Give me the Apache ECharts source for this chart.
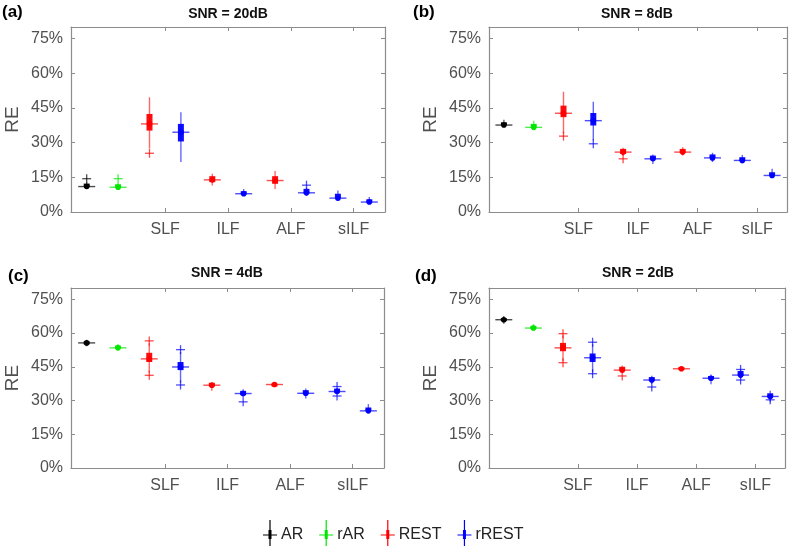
<!DOCTYPE html>
<html>
<head>
<meta charset="utf-8">
<script src="https://cdn.jsdelivr.net/npm/echarts@6/dist/echarts.min.js"></script>
<style>html,body{margin:0;padding:0;background:#fff}#c{width:793px;height:546px}</style>
</head>
<body>
<div id="c"></div>
<script>
// ---------- data ----------
const panelTitles = ['SNR = 20dB', 'SNR = 8dB', 'SNR = 4dB', 'SNR = 2dB'];
const panelLabels = ['(a)', '(b)', '(c)', '(d)'];
const groupNames = ['AR', 'rAR', 'REST', 'rREST'];
const groupColors = ['#000000', '#00e600', '#ff0000', '#0000ff'];
// which group each of the 10 box positions belongs to
const boxGroups = ['AR', 'rAR', 'REST', 'rREST', 'REST', 'rREST', 'REST', 'rREST', 'rREST', 'rREST'];
const xTickPos = [3.5, 5.5, 7.5, 9.5];
const xTickLabels = ['SLF', 'ILF', 'ALF', 'sILF'];
const yTicks = [0, 15, 30, 45, 60, 75];

// each box: [low whisker, q1, median, q3, high whisker] (RE in %)
const box20 = [
  [10.8, 10.9, 11.0, 12.3, 12.8],
  [10.5, 10.6, 10.7, 12.0, 12.5],
  [27.5, 35.2, 38.1, 42.4, 49.6],
  [21.6, 30.5, 34.5, 38.1, 43.1],
  [11.5, 12.9, 13.9, 15.5, 16.5],
  [6.9, 7.6, 7.9, 9.0, 10.0],
  [10.0, 12.2, 13.6, 15.5, 17.7],
  [6.9, 7.9, 8.3, 10.0, 10.6],
  [5.5, 6.0, 6.0, 7.9, 9.3],
  [3.6, 4.0, 4.3, 5.5, 6.5]
];
const out20 = [[1, 14.4], [2, 14.4], [3, 25.4], [8, 11.6]];

const box8 = [
  [37.4, 37.6, 37.6, 38.8, 39.9],
  [36.4, 36.6, 36.6, 38.1, 39.5],
  [34.0, 41.0, 42.7, 46.0, 52.0],
  [31.0, 37.4, 39.5, 42.8, 47.7],
  [24.3, 25.1, 25.9, 27.3, 27.8],
  [20.8, 22.7, 23.0, 24.4, 24.9],
  [24.4, 25.6, 25.9, 27.3, 28.0],
  [21.6, 23.4, 23.4, 24.9, 25.6],
  [21.1, 22.0, 22.3, 23.7, 24.7],
  [15.1, 15.8, 15.8, 17.2, 18.7]
];
const out8 = [[3, 32.8], [4, 29.5], [5, 23.0]];

const box4 = [
  [54.1, 55.3, 55.6, 56.3, 57.0],
  [52.4, 53.2, 53.4, 54.4, 55.1],
  [42.5, 47.1, 48.5, 51.2, 55.5],
  [38.0, 43.5, 44.9, 47.1, 51.5],
  [34.3, 36.2, 36.8, 37.9, 38.2],
  [31.5, 32.4, 33.1, 34.3, 35.0],
  [36.2, 36.5, 37.1, 37.6, 37.9],
  [30.9, 32.8, 33.2, 34.6, 35.3],
  [32.8, 33.5, 34.0, 35.3, 35.6],
  [24.7, 25.4, 25.4, 26.9, 28.4]
];
const out4 = [[3, 56.5], [3, 41.2], [4, 52.6], [4, 36.9], [6, 29.4], [9, 36.2], [9, 32.0]];

const box2 = [
  [64.1, 65.6, 65.9, 66.6, 67.6],
  [61.5, 62.1, 62.2, 63.2, 64.0],
  [47.5, 51.9, 53.4, 55.6, 59.0],
  [42.5, 47.1, 49.0, 50.9, 55.0],
  [42.4, 43.1, 43.5, 45.0, 45.6],
  [37.5, 38.7, 39.1, 40.4, 41.0],
  [43.8, 43.8, 44.1, 44.9, 45.0],
  [37.2, 39.4, 39.9, 40.9, 41.6],
  [39.8, 40.9, 41.3, 43.1, 43.5],
  [29.4, 31.3, 31.8, 33.2, 34.3]
];
const out2 = [[3, 59.7], [3, 46.8], [4, 55.9], [4, 41.9], [5, 40.9], [6, 36.0], [9, 43.8], [9, 39.1], [10, 30.3]];

const panelBoxes = [box20, box8, box4, box2];
const panelOutliers = [out20, out8, out4, out2];

// ---------- layout ----------
const FONT = '"Liberation Sans", Arial, sans-serif';
const grids = [
  {left: 71, top: 27, width: 314, height: 185},
  {left: 489, top: 27, width: 298, height: 185},
  {left: 71, top: 288, width: 313, height: 180},
  {left: 489, top: 288, width: 296, height: 180}
];
const titlePos = [[228, 14], [637, 14], [227, 273], [638, 273]];
const labelPos = [[2, 12], [413, 12], [8, 276], [415, 276]];

const AXIS_GRAY = '#8c8c8c';
const LABEL_GRAY = '#505050';

function renderBox(params, api) {
  const x = api.value(0);
  const pl = api.coord([x, api.value(1)]);
  const p1 = api.coord([x, api.value(2)]);
  const pm = api.coord([x, api.value(3)]);
  const p3 = api.coord([x, api.value(4)]);
  const ph = api.coord([x, api.value(5)]);
  const color = api.visual('color');
  const px = pl[0];
  const h = Math.max(p1[1] - p3[1], 3);
  return {
    type: 'group',
    children: [
      {type: 'line', shape: {x1: px, y1: pl[1], x2: px, y2: ph[1]}, style: {stroke: color, lineWidth: 1.4, opacity: 0.6}},
      {type: 'rect', shape: {x: px - 3, y: p3[1], width: 6, height: h}, style: {fill: color, opacity: 0.95}},
      {type: 'line', shape: {x1: px - 8.5, y1: pm[1], x2: px + 8.5, y2: pm[1]}, style: {stroke: color, lineWidth: 1.4, opacity: 0.7}},
      {type: 'circle', shape: {cx: px, cy: pm[1], r: 2.8}, style: {fill: color}}
    ]
  };
}
function renderOutlier(params, api) {
  const p = api.coord([api.value(0), api.value(1)]);
  const color = api.visual('color');
  return {
    type: 'group',
    children: [
      {type: 'line', shape: {x1: p[0] - 4.5, y1: p[1], x2: p[0] + 4.5, y2: p[1]}, style: {stroke: color, lineWidth: 1.3, opacity: 0.7}},
      {type: 'line', shape: {x1: p[0], y1: p[1] - 4.5, x2: p[0], y2: p[1] + 4.5}, style: {stroke: color, lineWidth: 1.3, opacity: 0.7}}
    ]
  };
}

const xAxes = [], yAxes = [], series = [], graphics = [];
grids.forEach((g, i) => {
  const common = {min: 0.5, max: 10.5, type: 'value', gridIndex: i, splitLine: {show: false},
    axisLine: {show: true, onZero: false, lineStyle: {color: AXIS_GRAY, width: 1.2}}};
  xAxes.push(Object.assign({}, common, {
    position: 'bottom',
    axisTick: {show: true, inside: true, length: 4, customValues: xTickPos, lineStyle: {color: AXIS_GRAY}},
    axisLabel: {show: true, customValues: xTickPos, margin: 10, color: LABEL_GRAY, fontSize: 16, fontFamily: FONT,
      formatter: v => xTickLabels[xTickPos.indexOf(+v)] || ''}
  }));
  xAxes.push(Object.assign({}, common, {
    position: 'top',
    axisTick: {show: true, inside: true, length: 4, customValues: xTickPos, lineStyle: {color: AXIS_GRAY}},
    axisLabel: {show: false}
  }));
  const ycommon = {type: 'value', min: 0, max: 80, gridIndex: i, splitLine: {show: false},
    axisLine: {show: true, onZero: false, lineStyle: {color: AXIS_GRAY, width: 1.2}}};
  yAxes.push(Object.assign({}, ycommon, {
    position: 'left',
    name: 'RE', nameLocation: 'middle', nameGap: 49,
    nameTextStyle: {fontSize: 19, color: LABEL_GRAY, fontFamily: FONT},
    axisTick: {show: true, inside: true, length: 4, customValues: yTicks, lineStyle: {color: AXIS_GRAY}},
    axisLabel: {show: true, customValues: yTicks, margin: 8, color: LABEL_GRAY, fontSize: 16, fontFamily: FONT,
      formatter: '{value}%'}
  }));
  yAxes.push(Object.assign({}, ycommon, {
    position: 'right',
    axisTick: {show: true, inside: true, length: 4, customValues: yTicks, lineStyle: {color: AXIS_GRAY}},
    axisLabel: {show: false}
  }));

  groupNames.forEach((gn, k) => {
    const boxData = [];
    panelBoxes[i].forEach((b, j) => {
      if (boxGroups[j] === gn) boxData.push([j + 1].concat(b));
    });
    const outData = panelOutliers[i].filter(o => boxGroups[o[0] - 1] === gn);
    if (boxData.length) {
      series.push({
        type: 'custom', name: gn, xAxisIndex: 2 * i, yAxisIndex: 2 * i,
        itemStyle: {color: groupColors[k]},
        renderItem: renderBox, encode: {x: 0, y: [1, 2, 3, 4, 5]}, data: boxData, silent: true
      });
    }
    if (outData.length) {
      series.push({
        type: 'custom', name: gn, xAxisIndex: 2 * i, yAxisIndex: 2 * i,
        itemStyle: {color: groupColors[k]},
        renderItem: renderOutlier, encode: {x: 0, y: 1}, data: outData, silent: true
      });
    }
  });

  graphics.push({type: 'text', x: titlePos[i][0], y: titlePos[i][1],
    style: {text: panelTitles[i], fontSize: 14, fontWeight: 'bold', fontFamily: FONT, fill: '#111', align: 'center', verticalAlign: 'middle'}});
  graphics.push({type: 'text', x: labelPos[i][0], y: labelPos[i][1],
    style: {text: panelLabels[i], fontSize: 17, fontWeight: 'bold', fontFamily: FONT, fill: '#000', align: 'left', verticalAlign: 'middle'}});
});

const chart = echarts.init(document.getElementById('c'), null, {renderer: 'canvas'});
chart.setOption({
  animation: false,
  grid: grids,
  xAxis: xAxes,
  yAxis: yAxes,
  series: series,
  graphic: graphics,
  legend: {
    data: groupNames,
    left: 258, top: 515,
    itemWidth: 14, itemHeight: 30, itemGap: 16,
    icon: 'path://M6.4,0H7.6V30H6.4Z M0,14.4H14V15.6H0Z M5.5,10H8.5V19H5.5Z',
    textStyle: {fontSize: 16, color: '#222', fontFamily: FONT, padding: [0, 0, 0, -1]},
    selectedMode: false
  }
});
</script>
</body>
</html>
